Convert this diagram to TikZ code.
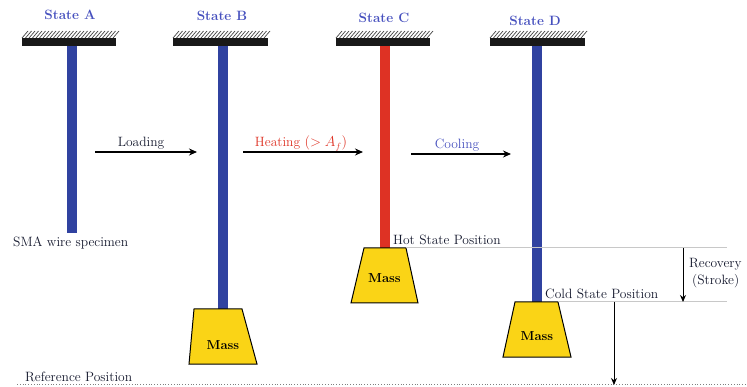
\documentclass[tikz,border=0pt]{standalone}
\usetikzlibrary{arrows.meta}
\definecolor{wireblue}{RGB}{48,66,160}
\definecolor{wirered}{RGB}{222,50,36}
\definecolor{massyellow}{RGB}{250,212,22}
\definecolor{titleblue}{RGB}{70,80,190}
\definecolor{textdark}{RGB}{20,24,45}
\definecolor{guide}{RGB}{200,200,200}
\begin{document}
\begin{tikzpicture}[x=1pt,y=-1pt,
  title/.style={font=\fontsize{13.5}{15}\selectfont\bfseries, text=titleblue, inner sep=0pt},
  lbl/.style={font=\fontsize{13.5}{15}\selectfont, text=textdark, inner sep=0pt},
  masstext/.style={font=\fontsize{13}{15}\selectfont\bfseries, text=black, inner sep=0pt},
  wire/.style={line width=10pt},
  massbox/.style={draw=black, line width=1pt, fill=massyellow, line join=miter},
  flow/.style={line width=1.2pt, -{Stealth[length=8pt,width=7pt]}},
  dim/.style={line width=0.9pt, -{Stealth[length=7pt,width=6pt]}},
  guideline/.style={guide, line width=1pt},
  refline/.style={gray, line width=0.8pt, dotted}]
\useasboundingbox (0,0) rectangle (747,387);

% fixed supports: black bar with slanted hatching on top
\newcommand\support[2]{%
  \fill[black!90] (#1,38) rectangle (#2,46);
  \foreach \hx in {0,3.5,...,92}{
    \draw[black!75, line width=0.7pt] (#1+\hx,38) -- (#1+\hx+6,31);
  }%
}
\support{22}{116}
\support{173}{268}
\support{336}{430}
\support{490}{585}

% titles
\node[title] (tA) at (70,15) {State A};
\node[title] (tB) at (222,16) {State B};
\node[title] (tC) at (384,18) {State C};
\node[title] (tD) at (535,21) {State D};

% wires
\draw[wire, wireblue] (72,46) -- (72,233);
\draw[wire, wireblue] (222.5,46) -- (222.5,309);
\draw[wire, wirered] (384.5,46) -- (384.5,248);
\draw[wire, wireblue] (536.5,46) -- (536.5,302);

% masses
\draw[massbox] (194,309) -- (242,309) -- (257,364) -- (189,364) -- cycle;
\node[masstext] (mB) at (223,345) {Mass};
\draw[massbox] (364,248) -- (406,248) -- (418,303) -- (351,303) -- cycle;
\node[masstext] (mC) at (384.5,278) {Mass};
\draw[massbox] (515,302) -- (558,302) -- (571,357) -- (503,357) -- cycle;
\node[masstext] (mD) at (537,336) {Mass};

% position guides
\coordinate (hotL) at (406,248);
\coordinate (hotR) at (727,248);
\coordinate (coldL) at (558,302);
\coordinate (coldR) at (727,302);
\draw[guideline] (hotL) -- (hotR);
\draw[guideline] (coldL) -- (coldR);
\coordinate (refL) at (17,384);
\coordinate (refR) at (747,384);
\draw[refline] (refL) -- (refR);

\node[lbl, anchor=base west] (hot) at (393,245) {Hot State Position};
\node[lbl, anchor=base west] (cold) at (545,299) {Cold State Position};
\node[lbl, anchor=base west] (ref) at (25,381) {Reference Position};
\node[lbl, anchor=base west] (sma) at (13,247) {SMA wire specimen};

% stroke and displacement arrows
\coordinate (s1) at (683,248);
\coordinate (s2) at (683,302);
\draw[dim] (s1) -- (s2);
\node[lbl, anchor=base west] (rec) at (689,268) {Recovery};
\node[lbl, anchor=base west] (strk) at (692,285) {(Stroke)};
\coordinate (d1) at (614,302);
\coordinate (d2) at (614,385);
\draw[dim] (d1) -- (d2);

% process arrows
\coordinate (a1) at (95,152);
\coordinate (a2) at (197,152);
\draw[flow] (a1) -- (a2);
\node[lbl, anchor=base] (load) at (141,147) {Loading};
\coordinate (b1) at (243,152);
\coordinate (b2) at (363,152);
\draw[flow] (b1) -- (b2);
\node[lbl, anchor=base, text=wirered] (heat) at (301,147) {Heating $(>A_f)$};
\coordinate (c1) at (411,154);
\coordinate (c2) at (511,154);
\draw[flow] (c1) -- (c2);
\node[lbl, anchor=base, text=titleblue] (cool) at (457,149) {Cooling};
\end{tikzpicture}
\end{document}
